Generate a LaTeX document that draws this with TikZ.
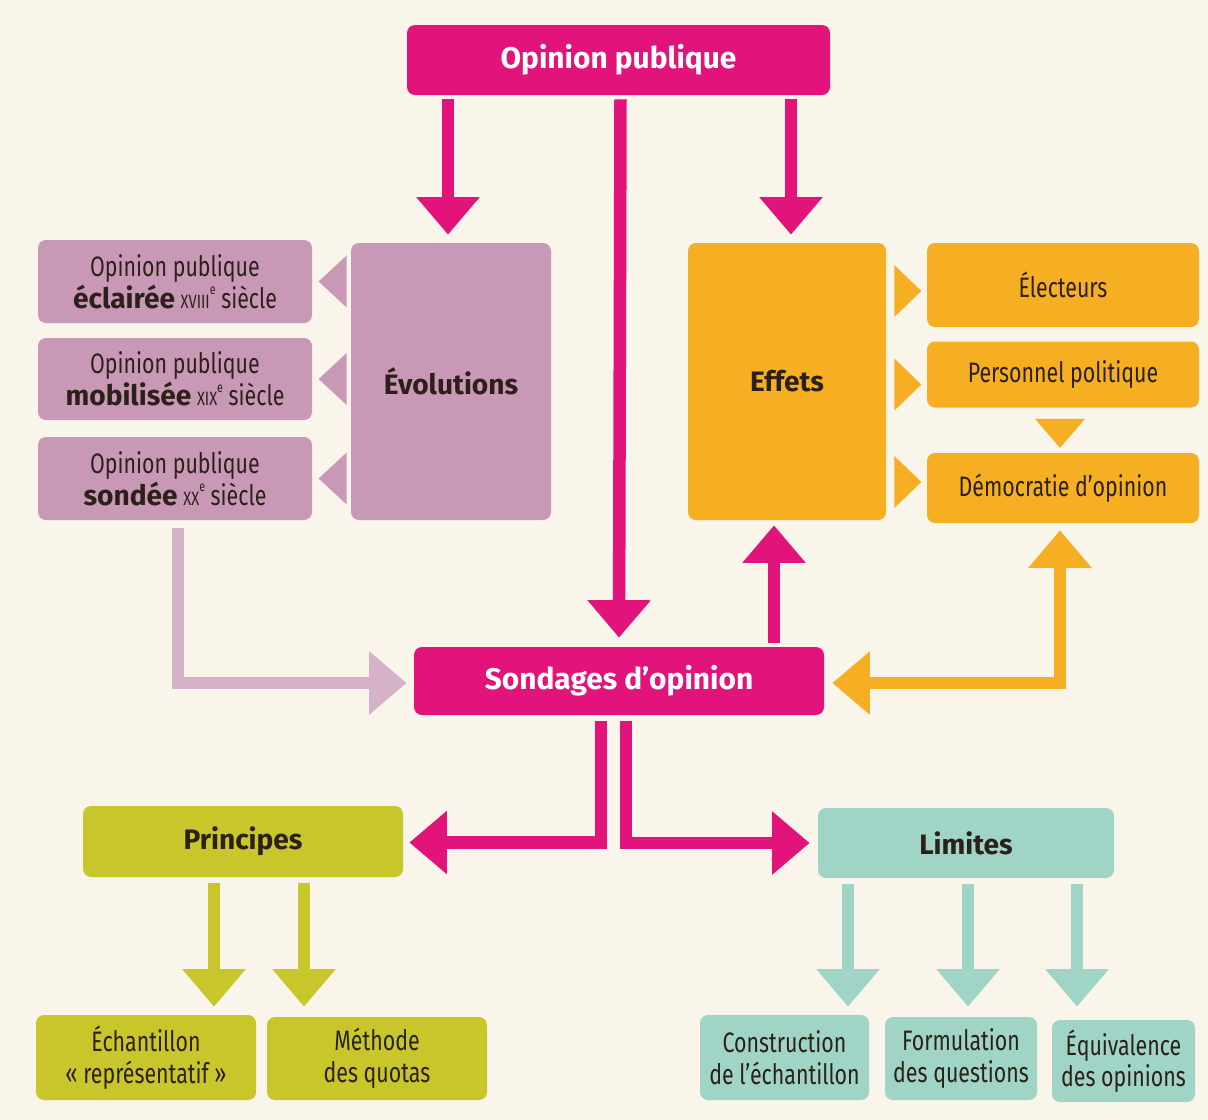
\documentclass[tikz,border=0pt]{standalone}
\usepackage{fontspec}
\setmainfont{Fira Sans}
\newfontfamily\etroit[FakeStretch=0.76]{Fira Sans}
\usetikzlibrary{positioning,calc,arrows.meta}

\definecolor{fond}{HTML}{F9F5EA}
\definecolor{encre}{HTML}{2B2118}
\definecolor{rose}{HTML}{E2137A}
\definecolor{mauve}{HTML}{C998B6}
\definecolor{mauveclair}{HTML}{D6B2C9}
\definecolor{orange}{HTML}{F6AF22}
\definecolor{olive}{HTML}{C8C62A}
\definecolor{turquoise}{HTML}{A0D4C6}

\newcommand\gras[1]{{\normalfont\bfseries #1}}
\newcommand\siecle[1]{{\fontsize{11}{12}\selectfont #1}\raisebox{0.9ex}{\fontsize{8}{9}\selectfont e}}

\tikzset{
  pointe/.tip={Triangle[length=0.75cm,width=1.22cm]},
  boite/.style={rounded corners=0.16cm, inner sep=0pt, align=center, text=encre},
  taille/.style 2 args={minimum width=#1*0.02cm, minimum height=#2*0.02cm},
  titre/.style={font=\bfseries\fontsize{16}{19}\selectfont},
  texte/.style={font=\etroit\fontsize{16}{18}\selectfont},
  fleche/.style={line width=0.25cm, -pointe},
}

\begin{document}
\begin{tikzpicture}[x=0.02cm, y=-0.02cm]
  \fill[fond] (0,0) rectangle (1208,1120);
  \useasboundingbox (0,0) rectangle (1208,1120);

  % sommets
  \node[boite, fill=rose, taille={423}{70}, titre, text=white, font=\bfseries\fontsize{17}{20}\selectfont] (op) at (618.5,60) {Opinion publique};
  \node[boite, fill=rose, taille={410}{68}, titre, text=white, font=\bfseries\fontsize{17}{20}\selectfont] (sond) at (619,681) {Sondages d’opinion};

  % evolutions
  \node[boite, fill=mauve, taille={200}{277}, titre] (evo) at (451,381.5) {Évolutions};
  \node[boite, fill=mauve, taille={274}{83}, texte] (e1) at (175,281.5) {Opinion publique\\\gras{éclairée} \siecle{XVIII} siècle};
  \node[boite, fill=mauve, taille={274}{82}, texte] (e2) at (175,379) {Opinion publique\\\gras{mobilisée} \siecle{XIX} siècle};
  \node[boite, fill=mauve, taille={274}{83}, texte] (e3) at (175,478.5) {Opinion publique\\\gras{sondée} \siecle{XX} siècle};

  % effets
  \node[boite, fill=orange, taille={198}{277}, titre] (eff) at (787,381.5) {Effets};
  \node[boite, fill=orange, taille={272}{84}, texte] (r1) at (1063,285) {Électeurs};
  \node[boite, fill=orange, taille={272}{66}, texte] (r2) at (1063,374.5) {Personnel politique};
  \node[boite, fill=orange, taille={272}{70}, texte] (r3) at (1063,488) {Démocratie d’opinion};

  % principes
  \node[boite, fill=olive, taille={320}{71}, titre] (prin) at (243,841.5) {Principes};
  \node[boite, fill=olive, taille={220}{85}, texte] (b1) at (146,1057.5) {Échantillon\\«~représentatif~»};
  \node[boite, fill=olive, taille={220}{83}, texte] (b2) at (377,1058.5) {Méthode\\des quotas};

  % limites
  \node[boite, fill=turquoise, taille={296}{70}, titre] (lim) at (966,843) {Limites};
  \node[boite, fill=turquoise, taille={169}{85}, texte] (c1) at (784.5,1057.5) {Construction\\de l’échantillon};
  \node[boite, fill=turquoise, taille={152}{83}, texte] (c2) at (961,1058.5) {Formulation\\des questions};
  \node[boite, fill=turquoise, taille={143}{82}, texte] (c3) at (1123.5,1061) {Équivalence\\des opinions};

  % fleches roses
  \draw[fleche, rose] ($(op.south -| evo.north)+(-3,4)$) -- ($(evo.north)+(-3,-8)$);
  \draw[fleche, rose] ($(op.south -| eff.north)+(4,4)$) -- ($(eff.north)+(4,-8)$);
  \draw[fleche, rose] ($(op.south)+(2,4)$) -- ($(sond.north)+(0,-9)$);
  \draw[fleche, rose] ($(sond.north -| eff.south)+(-13,-4)$) -- ($(eff.south)+(-13,5)$);
  \draw[fleche, rose] ($(sond.south)+(-18,6)$) |- ($(prin.east)+(6,1)$);
  \draw[fleche, rose] ($(sond.south)+(7,6)$) |- ($(lim.west)+(-8,0)$);

  % fleche mauve et fleche orange
  \draw[fleche, mauveclair] ($(e3.south)+(3,8)$) |- ($(sond.west)+(-7,2)$);
  \draw[line width=0.25cm, orange, pointe-pointe] ($(sond.east)+(8,2)$) -| ($(r3.south)+(-3,7)$);

  % triangles
  \foreach \n in {e1,e2,e3}
    \fill[mauve] ($(evo.west |- \n.east)+(-4,-26)$) -- ++(0,52) -- ++(-28,-26) -- cycle;
  \foreach \n/\d in {r1/6,r2/10,r3/-6}
    \fill[orange] ($(eff.east |- \n.west)+(8,\d-26)$) -- ++(0,52) -- ++(27,-26) -- cycle;
  \fill[orange] ($(r2.south)+(-28,11)$) -- ++(50,0) -- ++(-25,29) -- cycle;

  % fleches du bas
  \foreach \dx in {-29,61}
    \draw[fleche, olive] ($(prin.south)+(\dx,6)$) -- ($(prin.south |- b1.north)+(\dx,-8)$);
  \foreach \dx in {-118,2,111}
    \draw[fleche, turquoise] ($(lim.south)+(\dx,6)$) -- ($(lim.south |- c2.north)+(\dx,-10)$);
\end{tikzpicture}
\end{document}
